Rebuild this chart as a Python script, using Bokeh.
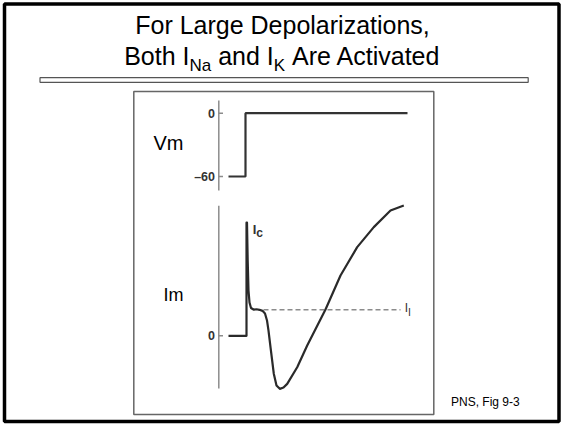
from bokeh.plotting import figure
from bokeh.models import Range1d
from bokeh.embed import file_html
from bokeh.resources import INLINE
from bokeh.core.properties import value

# ---------------- data ----------------
# membrane potential step (time in ms, Vm in mV)
vm_t = [-0.9, -0.05, -0.05, 8.05]
vm_v = [-60, -60, 0, 0]
# membrane current (arbitrary units, I_l = 1)
im_t = [-0.9, 0.0, 0.0, 0.025, 0.06, 0.1, 0.15, 0.225, 0.35, 0.5, 0.65, 0.8,
        0.925, 1.025, 1.1, 1.2, 1.365, 1.5, 1.665, 1.85, 2.035, 2.535, 3.035,
        3.95, 4.7, 5.535, 6.365, 7.2, 7.865]
im_i = [0, 0, 4.35, 4.35, 2.9, 1.74, 1.28, 1.07, 1.01, 1.02, 1.0, 0.96,
        0.86, 0.59, 0.20, -0.44, -1.46, -1.91, -2.04, -1.99, -1.85, -1.21, -0.37,
        1.01, 2.32, 3.41, 4.18, 4.82, 5.01]
il_level = 1.0
il_t = [0.85, 7.7]
vm_ticks = [0, -60]
vm_tick_labels = ["0", "\u201360"]
im_ticks = [0]
im_tick_labels = ["0"]
vm_axis_extent = [12, -73.3]
im_axis_extent = [5.0, -2.03]

# ---------------- layout (page pixel mapping) ----------------
W, H = 564, 424
PAGE_L, PAGE_T = 0, 0
PAGE_R, PAGE_B = PAGE_L + W, PAGE_T + H
X0, PX_MS = 246.0, 20.0          # page x of t=0, px per ms
I0, PX_I = 335.3, 26.0           # page y of I=0, px per unit
V0, PX_MV = 112.7, 63.3 / 60.0   # page y of V=0, px per mV

FONT = value("Liberation Sans")


def bl(y, size):
    # compensate the renderer's alphabetic-baseline offset
    return y - 0.45 * size


p = figure(width=W, height=H, output_backend="svg", toolbar_location=None,
           x_axis_type=None, y_axis_type=None, min_border=0,
           x_range=Range1d((PAGE_L - X0) / PX_MS, (PAGE_R - X0) / PX_MS),
           y_range=Range1d((I0 - PAGE_B) / PX_I, (I0 - PAGE_T) / PX_I))
p.extra_x_ranges = {"px": Range1d(PAGE_L, PAGE_R)}
p.extra_y_ranges = {"px": Range1d(PAGE_B, PAGE_T),
                    "vm": Range1d((V0 - PAGE_B) / PX_MV, (V0 - PAGE_T) / PX_MV)}
p.grid.visible = False
p.outline_line_color = None
p.background_fill_color = "white"
p.border_fill_color = "white"

PX = dict(x_range_name="px", y_range_name="px")

# slide chrome
p.quad(left=[4], right=[558.5], top=[3.5], bottom=[421], fill_color=None,
       line_color="black", line_width=3.5, **PX)
p.quad(left=[39.5], right=[527.7], top=[77.2], bottom=[81.8], fill_color="white",
       line_color="#555555", line_width=1.2, **PX)
p.quad(left=[133.3], right=[433.3], top=[91], bottom=[414], fill_color=None,
       line_color="#666666", line_width=1.5, **PX)

# title
p.text(x=[282], y=[bl(36, 25)], text=["For Large Depolarizations,"], text_font=FONT,
       text_font_size="25px", text_align="center", text_baseline="alphabetic",
       text_color="black", **PX)
p.text(x=[123.7, 217.7, 291.6], y=[bl(66.5, 25)] * 3, text=["Both I", "and I", "Are Activated"],
       text_font=FONT, text_font_size="25px", text_align="left", text_baseline="alphabetic",
       text_color="black", **PX)
p.text(x=[189.0, 273.3], y=[bl(73, 17)] * 2, text=["Na", "K"], text_font=FONT,
       text_font_size="17px", text_align="left", text_baseline="alphabetic",
       text_color="black", **PX)

# axes (drawn)
AX = 218.3
p.segment(x0=[AX], x1=[AX], y0=[vm_axis_extent[0]], y1=[vm_axis_extent[1]],
          line_color="#8c8c8c", line_width=1.5, x_range_name="px", y_range_name="vm")
p.segment(x0=[AX] * len(vm_ticks), x1=[AX + 4.2] * len(vm_ticks), y0=vm_ticks, y1=vm_ticks,
          line_color="#8c8c8c", line_width=1.5, x_range_name="px", y_range_name="vm")
p.text(x=[214.5] * len(vm_ticks), y=vm_ticks, text=vm_tick_labels, text_font=FONT,
       text_font_size="12.5px", text_font_style="bold", text_align="right",
       text_baseline="middle", text_color="#333333", x_range_name="px", y_range_name="vm")
p.segment(x0=[AX], x1=[AX], y0=[im_axis_extent[0]], y1=[im_axis_extent[1]],
          line_color="#8c8c8c", line_width=1.5, x_range_name="px")
p.segment(x0=[AX] * len(im_ticks), x1=[AX + 4.2] * len(im_ticks), y0=im_ticks, y1=im_ticks,
          line_color="#8c8c8c", line_width=1.5, x_range_name="px")
p.text(x=[214.5] * len(im_ticks), y=im_ticks, text=im_tick_labels, text_font=FONT,
       text_font_size="12.5px", text_font_style="bold", text_align="right",
       text_baseline="middle", text_color="#333333", x_range_name="px")

# axis names
p.text(x=[183], y=[bl(151.7, 20)], text=["Vm"], text_font=FONT, text_font_size="20px",
       text_align="right", text_baseline="alphabetic", text_color="black", **PX)
p.text(x=[183], y=[bl(302.7, 18)], text=["Im"], text_font=FONT, text_font_size="18px",
       text_align="right", text_baseline="alphabetic", text_color="black", **PX)

# traces
p.line(il_t, [il_level, il_level], line_color="#8c8c8c", line_width=1.5, line_dash="5 3")
p.line(vm_t, vm_v, line_color="#333333", line_width=2.2, y_range_name="vm")
p.line(im_t, im_i, line_color="#2a2a2a", line_width=2.2, line_join="round")

# trace labels
p.text(x=[252.3], y=[bl(235, 13)], text=["I"], text_font=FONT, text_font_size="13px",
       text_font_style="bold", text_align="left", text_baseline="alphabetic",
       text_color="#333333", **PX)
p.text(x=[255.8], y=[bl(237.5, 12)], text=["c"], text_font=FONT, text_font_size="12px",
       text_font_style="bold", text_align="left", text_baseline="alphabetic",
       text_color="#333333", **PX)
p.text(x=[404.3], y=[bl(313.3, 12)], text=["I"], text_font=FONT, text_font_size="12px",
       text_align="left", text_baseline="alphabetic", text_color="#333333", **PX)
p.text(x=[407.8], y=[bl(316.7, 11)], text=["l"], text_font=FONT, text_font_size="11px",
       text_align="left", text_baseline="alphabetic", text_color="#333333", **PX)

# source note
p.text(x=[450.5], y=[bl(406.5, 12)], text=["PNS, Fig 9-3"], text_font=FONT, text_font_size="12px",
       text_align="left", text_baseline="alphabetic", text_color="black", **PX)

open("out.html", "w").write(file_html(p, INLINE))
